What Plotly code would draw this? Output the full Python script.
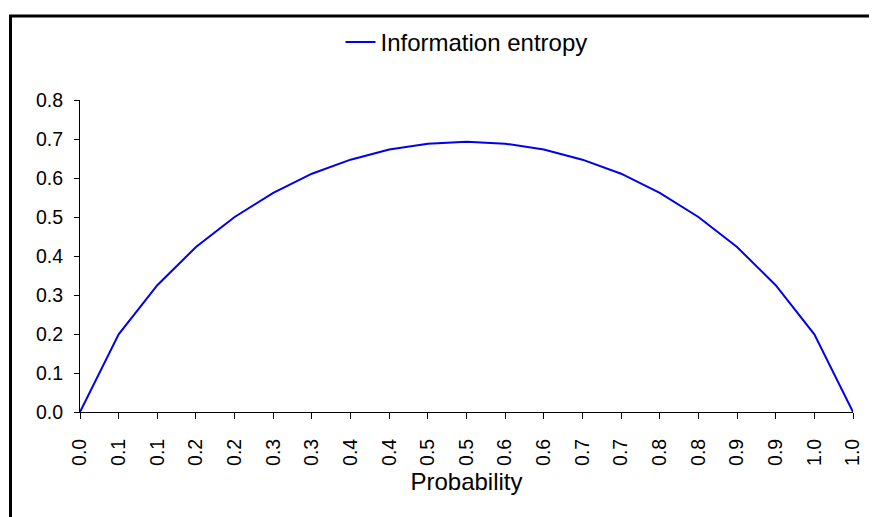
import plotly.graph_objects as go

probability = [0.00, 0.05, 0.10, 0.15, 0.20, 0.25, 0.30, 0.35, 0.40, 0.45, 0.50,
               0.55, 0.60, 0.65, 0.70, 0.75, 0.80, 0.85, 0.90, 0.95, 1.00]
entropy = [0.000, 0.199, 0.325, 0.423, 0.500, 0.562, 0.611, 0.647, 0.673, 0.688, 0.693,
           0.688, 0.673, 0.647, 0.611, 0.562, 0.500, 0.423, 0.325, 0.199, 0.000]
tick_labels = ["0.0", "0.1", "0.1", "0.2", "0.2", "0.3", "0.3", "0.4", "0.4", "0.5", "0.5",
               "0.6", "0.6", "0.7", "0.7", "0.8", "0.8", "0.9", "0.9", "1.0", "1.0"]

# page body adds an 8px offset; the figure is sized to fill the rest of the window
W, H = 869, 509
L, R, T, B = 72, 24, 90, 105
pw, ph = W - L - R, H - T - B

fig = go.Figure()
fig.add_trace(go.Scatter(x=probability, y=entropy, mode="lines",
                         name="Information entropy",
                         line=dict(color="#0000ee", width=2)))

font = dict(family="Liberation Sans, Arial, sans-serif", color="#000000")

fig.update_layout(
    width=W, height=H,
    margin=dict(l=L, r=R, t=T, b=B),
    paper_bgcolor="white", plot_bgcolor="white",
    font=dict(**font, size=20),
    showlegend=True,
    legend=dict(orientation="h", x=0.5, xanchor="center", y=1 + (T - 32) / ph,
                yanchor="middle", font=dict(size=24), bgcolor="rgba(0,0,0,0)"),
    xaxis=dict(range=[0, 1], tickvals=probability, ticktext=tick_labels,
               tickangle=-90, ticks="outside", ticklen=6, tickcolor="#000",
               showline=True, linecolor="#000", linewidth=1, showgrid=False,
               zeroline=False, tickfont=dict(size=19.5), ticklabelstandoff=12,
               title=dict(text="Probability", font=dict(size=24), standoff=8)),
    yaxis=dict(range=[0, 0.8], dtick=0.1, tickformat=".1f",
               ticks="outside", ticklen=5, tickcolor="#000",
               showline=True, linecolor="#000", linewidth=1, showgrid=False,
               zeroline=False, tickfont=dict(size=19.5), ticklabelstandoff=7),
)

# outer chart frame (extends past right and bottom edges)
fig.add_shape(type="rect", xref="paper", yref="paper",
              x0=(2.5 - L) / pw, x1=1 + (R + 20) / pw,
              y0=-(B + 20) / ph, y1=1 + (T - 5.5) / ph,
              line=dict(color="#000", width=3), fillcolor="rgba(0,0,0,0)",
              layer="above")

fig.write_html("out.html")
